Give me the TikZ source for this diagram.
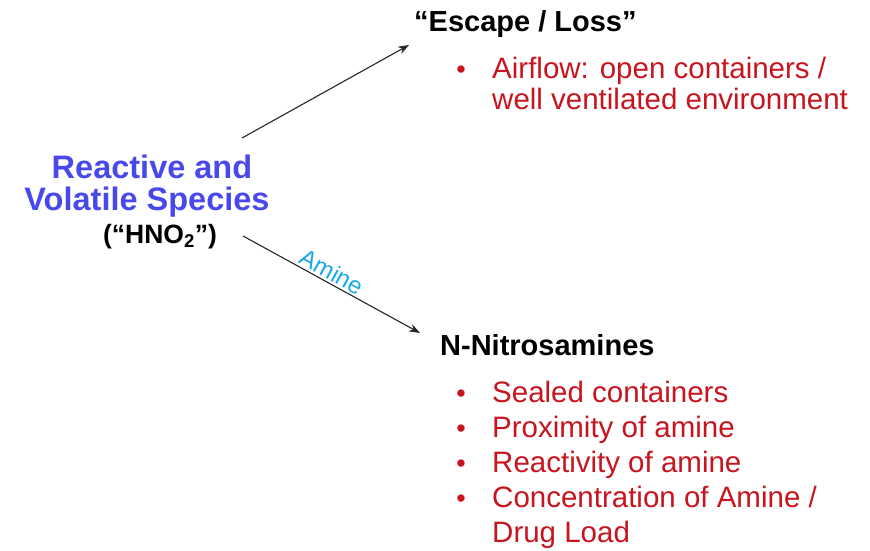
\documentclass[tikz,border=0pt]{standalone}
\usepackage{fontspec}
\setmainfont{Liberation Sans}
\usetikzlibrary{arrows.meta}
\definecolor{blueT}{RGB}{72,72,235}
\definecolor{redT}{RGB}{200,20,30}
\definecolor{cyanT}{RGB}{25,170,230}
\tikzset{
  bluehead/.style={font=\fontsize{32.5}{34}\selectfont\bfseries, text=blueT, inner sep=0pt, anchor=base},
  blackhead/.style={font=\fontsize{29}{32}\selectfont\bfseries, text=black, inner sep=0pt, anchor=base west},
  redline/.style={font=\fontsize{29.5}{32}\selectfont, text=redT, inner sep=0pt, anchor=base west},
  bul/.style={font=\fontsize{27}{28}\selectfont, text=redT, inner sep=0pt, anchor=base},
  arr/.style={draw=black!85, line width=1.1pt, -{Stealth[length=11pt,width=8pt]}}
}
\begin{document}
\begin{tikzpicture}[x=1pt,y=-1pt]
\useasboundingbox (0,0) rectangle (870,551);
% source
\node[bluehead] (r1) at (152,178) {Reactive and};
\node[bluehead] (r2) at (147,210) {Volatile Species};
\node[font=\fontsize{26.5}{28}\selectfont\bfseries, inner sep=0pt, anchor=base] (hno) at (160,243) {(“HNO\textsubscript{2}”)};
% targets
\node[blackhead] (esc) at (414,32) {“Escape / Loss”};
\node[bul] (b0) at (461,78) {•};
\node[redline] (a1) at (492,78) {Airflow: open containers /};
\node[redline] (a2) at (492,110) {well ventilated environment};
\node[blackhead] (nit) at (440,355) {N-Nitrosamines};
\node[bul] (b1) at (461,402) {•};
\node[redline] (s1) at (492,402) {Sealed containers};
\node[bul] (b2) at (461,437) {•};
\node[redline] (s2) at (492,437) {Proximity of amine};
\node[bul] (b3) at (461,472) {•};
\node[redline] (s3) at (492,472) {Reactivity of amine};
\node[bul] (b4) at (461,507) {•};
\node[redline] (s4) at (492,507) {Concentration of Amine /};
\node[redline] (s5) at (492,542) {Drug Load};
% connectors
\coordinate (up0) at (242,138);
\coordinate (up1) at (409,45);
\coordinate (dn0) at (243,236);
\coordinate (dn1) at (420,333);
\draw[arr] (up0) -- (up1);
\draw[arr] (dn0) -- node[sloped, above, pos=0.47, font=\fontsize{24}{25}\selectfont, text=cyanT, inner sep=2pt] (am) {Amine} (dn1);
\end{tikzpicture}
\end{document}
